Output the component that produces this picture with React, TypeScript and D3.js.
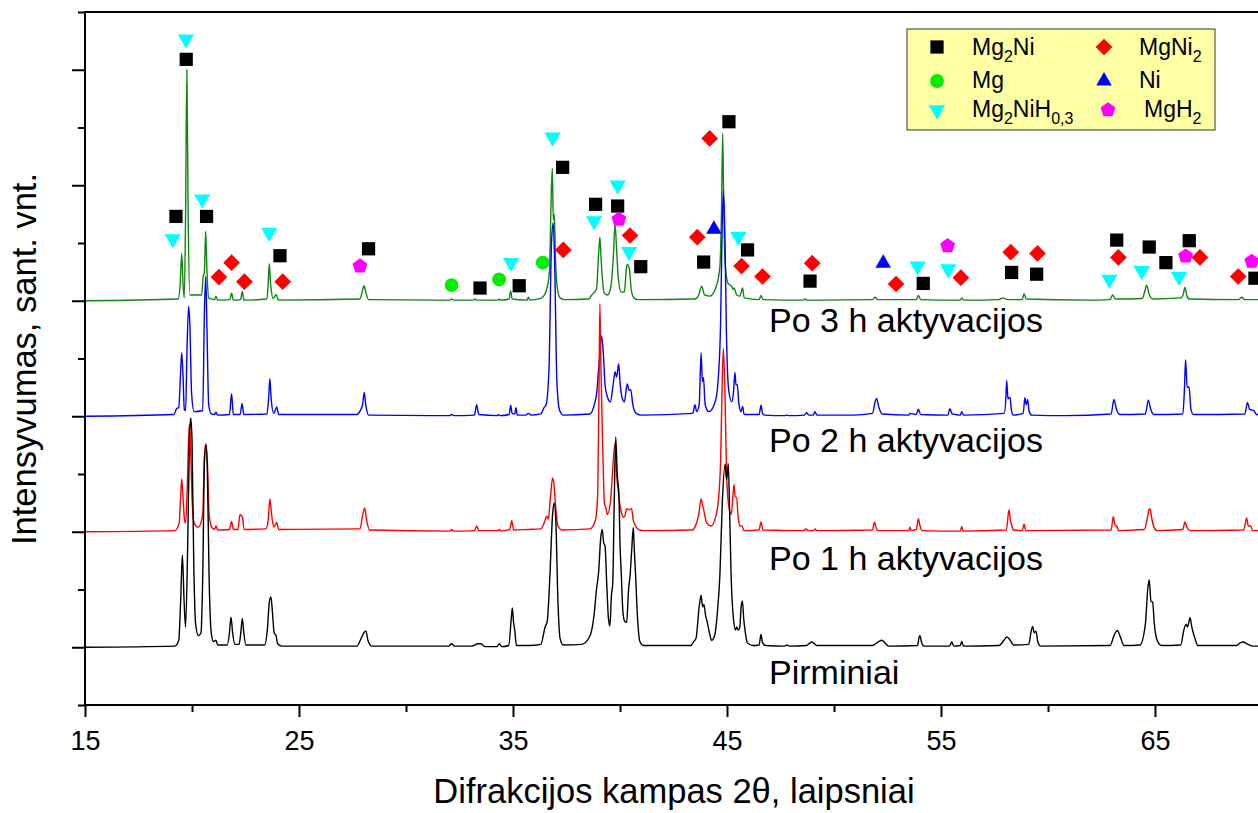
import React, { useEffect, useRef } from 'react';
import * as d3 from 'd3';

type Pt = [number, number];

// XRD patterns: [2theta (deg), intensity above the pattern's own baseline]
const pirminiai: Pt[] = [
  [15, 0], [19.2, 0.02], [19.38, 0.12], [19.47, 0.8], [19.55, 1.6], [19.63, 0.8], [19.7, 0.35],
  [19.8, 1.8], [19.88, 3.6], [19.94, 3.97], [20.0, 3.6], [20.08, 1.5], [20.17, 0.4], [20.3, 0.2],
  [20.42, 0.25], [20.5, 1.2], [20.58, 3.2], [20.65, 3.5], [20.72, 3.0], [20.8, 1.2], [20.9, 0.25],
  [21.0, 0.1], [21.12, 0.12], [21.2, 0.04], [21.65, 0.04], [21.75, 0.25], [21.82, 0.52], [21.9, 0.25],
  [22.0, 0.05], [22.2, 0.05], [22.28, 0.25], [22.35, 0.5], [22.42, 0.25], [22.52, 0.04], [23.4, 0.04],
  [23.52, 0.3], [23.62, 0.8], [23.69, 0.87], [23.76, 0.6], [23.84, 0.25], [23.93, 0.2], [24.0, 0.06],
  [24.2, 0.02], [27.7, 0.02], [27.9, 0.15], [28.05, 0.26], [28.13, 0.28], [28.22, 0.12], [28.4, 0.02],
  [32.0, 0.02], [32.13, 0.06], [32.26, 0.02], [33.1, 0.02], [33.35, 0.06], [33.5, 0.06], [33.7, 0.01],
  [34.25, 0.01], [34.36, 0.06], [34.47, 0.01], [34.8, 0.03], [34.92, 0.5], [34.97, 0.68], [35.02, 0.45],
  [35.08, 0.3], [35.16, 0.03], [35.75, 0.03], [36.3, 0.05], [36.5, 0.35], [36.6, 0.45], [36.72, 1.2],
  [36.85, 2.3], [36.92, 2.5], [37.0, 2.2], [37.1, 0.8], [37.2, 0.15], [37.35, 0.04], [38.2, 0.05],
  [38.6, 0.2], [38.8, 0.6], [38.9, 1.0], [39.0, 1.3], [39.1, 1.9], [39.17, 2.04], [39.24, 1.8],
  [39.3, 1.76], [39.38, 1.1], [39.46, 0.5], [39.53, 0.37], [39.6, 0.9], [39.66, 1.1], [39.73, 2.5],
  [39.8, 3.64], [39.87, 3.0], [39.95, 2.65], [40.0, 1.8], [40.06, 1.27], [40.14, 0.6], [40.22, 0.45],
  [40.31, 0.43], [40.4, 1.0], [40.47, 1.24], [40.55, 1.7], [40.62, 2.07], [40.68, 1.6], [40.73, 1.24],
  [40.82, 0.5], [40.93, 0.1], [41.1, 0.03], [43.3, 0.03], [43.45, 0.1], [43.55, 0.15], [43.7, 0.7],
  [43.79, 0.9], [43.86, 0.7], [43.92, 0.74], [44.0, 0.55], [44.08, 0.43], [44.18, 0.25], [44.28, 0.12],
  [44.42, 0.2], [44.55, 0.6], [44.67, 1.27], [44.78, 2.5], [44.91, 3.17], [44.98, 2.9], [45.06, 3.18],
  [45.12, 2.4], [45.19, 1.27], [45.3, 0.5], [45.4, 0.3], [45.45, 0.35], [45.53, 0.3], [45.6, 0.35],
  [45.66, 0.7], [45.72, 0.8], [45.78, 0.5], [45.84, 0.3], [45.95, 0.08], [46.2, 0.03], [46.5, 0.04],
  [46.59, 0.22], [46.66, 0.08], [46.8, 0.03], [47.7, 0.02], [47.8, 0.04], [47.9, 0.02], [48.7, 0.03],
  [48.96, 0.09], [49.2, 0.03], [51.8, 0.03], [52.1, 0.1], [52.23, 0.12], [52.4, 0.07], [52.55, 0.02],
  [53.9, 0.03], [53.98, 0.18], [54.02, 0.2], [54.08, 0.1], [54.2, 0.02], [55.4, 0.02], [55.5, 0.09],
  [55.6, 0.02], [55.9, 0.03], [55.97, 0.1], [56.05, 0.02], [57.7, 0.03], [58.0, 0.15], [58.07, 0.18],
  [58.2, 0.14], [58.4, 0.04], [59.1, 0.05], [59.2, 0.25], [59.28, 0.36], [59.36, 0.25], [59.44, 0.28],
  [59.52, 0.1], [59.65, 0.02], [62.9, 0.03], [63.1, 0.22], [63.24, 0.29], [63.38, 0.18], [63.55, 0.03],
  [64.3, 0.04], [64.55, 0.4], [64.66, 1.0], [64.73, 1.17], [64.81, 0.8], [64.89, 0.78], [64.97, 0.4],
  [65.1, 0.12], [65.3, 0.03], [66.2, 0.04], [66.35, 0.3], [66.45, 0.4], [66.52, 0.35], [66.64, 0.51],
  [66.72, 0.35], [66.87, 0.15], [67.0, 0.03], [68.8, 0.03], [69.0, 0.08], [69.13, 0.09], [69.3, 0.06],
  [69.6, 0.02], [70, 0.02],
];

const po1h: Pt[] = [
  [15, 0], [19.2, 0.02], [19.4, 0.15], [19.47, 0.6], [19.52, 0.92], [19.58, 0.6], [19.65, 0.2],
  [19.7, 0.15], [19.78, 0.8], [19.85, 1.7], [19.88, 1.85], [19.93, 1.5], [20.0, 0.6], [20.1, 0.15],
  [20.3, 0.08], [20.5, 0.3], [20.58, 1.3], [20.65, 1.53], [20.72, 1.2], [20.8, 0.3], [20.92, 0.08],
  [21.05, 0.04], [21.12, 0.1], [21.2, 0.03], [21.75, 0.04], [21.85, 0.18], [21.93, 0.04], [22.15, 0.04],
  [22.24, 0.3], [22.3, 0.28], [22.36, 0.25], [22.43, 0.04], [23.45, 0.05], [23.56, 0.2], [23.64, 0.57],
  [23.72, 0.3], [23.82, 0.08], [23.96, 0.16], [24.05, 0.04], [27.85, 0.05], [27.98, 0.3], [28.07, 0.41],
  [28.16, 0.2], [28.3, 0.03], [32.05, 0.01], [32.13, 0.04], [32.22, 0.01], [33.2, 0.02], [33.3, 0.1],
  [33.4, 0.02], [34.3, 0.02], [34.36, 0.04], [34.45, 0.01], [34.85, 0.04], [34.94, 0.19], [35.03, 0.03],
  [35.72, 0.04], [36.3, 0.05], [36.5, 0.2], [36.57, 0.27], [36.65, 0.22], [36.75, 0.6], [36.85, 0.93],
  [36.92, 0.8], [37.0, 0.4], [37.1, 0.1], [37.3, 0.03], [38.6, 0.05], [38.85, 0.2], [38.95, 0.6],
  [39.02, 2.5], [39.06, 3.95], [39.1, 3.0], [39.19, 1.5], [39.27, 0.5], [39.35, 0.4], [39.4, 0.3],
  [39.55, 0.5], [39.68, 1.2], [39.77, 1.54], [39.84, 1.0], [39.92, 0.7], [40.05, 0.35], [40.18, 0.25],
  [40.25, 0.3], [40.31, 0.4], [40.42, 0.38], [40.54, 0.4], [40.62, 0.2], [40.7, 0.12], [40.85, 0.04],
  [41.1, 0.02], [43.4, 0.03], [43.5, 0.08], [43.68, 0.3], [43.79, 0.57], [43.86, 0.45], [43.9, 0.4],
  [44.05, 0.15], [44.25, 0.1], [44.5, 0.3], [44.65, 0.8], [44.7, 1.2], [44.77, 2.5], [44.83, 3.17],
  [44.9, 2.5], [44.98, 1.0], [45.1, 0.4], [45.2, 0.3], [45.33, 0.82], [45.38, 0.6], [45.45, 0.6],
  [45.52, 0.25], [45.62, 0.1], [45.69, 0.1], [45.8, 0.02], [46.5, 0.03], [46.59, 0.17], [46.68, 0.03],
  [48.6, 0.02], [48.69, 0.05], [48.8, 0.02], [49.05, 0.02], [49.11, 0.05], [49.2, 0.02], [51.8, 0.03],
  [51.89, 0.17], [51.96, 0.08], [52.05, 0.02], [53.5, 0.02], [53.55, 0.08], [53.62, 0.02], [53.85, 0.04],
  [53.94, 0.22], [54.02, 0.1], [54.1, 0.02], [55.9, 0.01], [55.97, 0.09], [56.04, 0.01], [58.05, 0.03],
  [58.18, 0.38], [58.24, 0.2], [58.3, 0.12], [58.38, 0.03], [58.8, 0.02], [58.88, 0.13], [58.96, 0.02],
  [62.95, 0.03], [63.05, 0.26], [63.13, 0.12], [63.21, 0.1], [63.3, 0.02], [64.5, 0.04], [64.65, 0.25],
  [64.72, 0.38], [64.77, 0.4], [64.84, 0.25], [64.95, 0.08], [65.1, 0.02], [66.3, 0.04], [66.4, 0.17],
  [66.5, 0.07], [66.65, 0.02], [69.15, 0.03], [69.28, 0.24], [69.36, 0.1], [69.47, 0.1], [69.55, 0.02],
  [70, 0.02],
];

const po2h: Pt[] = [
  [15, 0], [19.15, 0.03], [19.28, 0.13], [19.38, 0.15], [19.46, 0.7], [19.52, 1.1], [19.58, 0.7],
  [19.64, 0.12], [19.7, 0.1], [19.77, 1.2], [19.84, 1.9], [19.9, 1.6], [19.98, 0.4], [20.1, 0.08],
  [20.5, 0.1], [20.58, 1.8], [20.64, 2.42], [20.7, 1.5], [20.78, 0.2], [20.9, 0.04], [21.05, 0.03],
  [21.12, 0.07], [21.2, 0.02], [21.75, 0.03], [21.85, 0.39], [21.93, 0.03], [22.25, 0.03], [22.34, 0.22],
  [22.42, 0.03], [23.5, 0.04], [23.58, 0.3], [23.64, 0.65], [23.7, 0.3], [23.82, 0.05], [23.96, 0.16],
  [24.05, 0.03], [27.7, 0.03], [27.85, 0.09], [27.97, 0.2], [28.05, 0.41], [28.12, 0.2], [28.25, 0.02],
  [32.05, 0.01], [32.13, 0.03], [32.22, 0.01], [33.2, 0.02], [33.3, 0.2], [33.4, 0.03], [34.28, 0.01],
  [34.31, 0.03], [34.4, 0.01], [34.82, 0.03], [34.89, 0.19], [34.96, 0.05], [35.08, 0.04], [35.14, 0.15],
  [35.2, 0.02], [35.6, 0.02], [35.72, 0.05], [35.84, 0.02], [36.3, 0.04], [36.45, 0.15], [36.54, 0.19],
  [36.68, 0.8], [36.8, 3.0], [36.88, 3.35], [36.95, 2.6], [37.05, 0.6], [37.18, 0.1], [37.35, 0.02],
  [38.6, 0.04], [38.8, 0.2], [38.91, 0.4], [39.02, 0.9], [39.14, 1.39], [39.22, 1.1], [39.3, 0.55],
  [39.4, 0.35], [39.55, 0.25], [39.68, 0.55], [39.77, 0.77], [39.84, 0.68], [39.94, 0.91], [40.0, 0.6],
  [40.08, 0.35], [40.2, 0.25], [40.34, 0.56], [40.42, 0.45], [40.5, 0.46], [40.6, 0.2], [40.75, 0.05],
  [41.0, 0.02], [43.4, 0.05], [43.5, 0.2], [43.58, 0.08], [43.7, 0.2], [43.79, 1.1], [43.85, 0.6],
  [43.9, 0.67], [43.98, 0.2], [44.15, 0.08], [44.45, 0.25], [44.6, 0.7], [44.7, 1.6], [44.77, 3.2],
  [44.83, 3.9], [44.9, 3.2], [44.97, 1.5], [45.08, 0.45], [45.22, 0.25], [45.3, 0.4], [45.37, 0.76],
  [45.42, 0.55], [45.48, 0.54], [45.56, 0.2], [45.65, 0.08], [45.73, 0.17], [45.8, 0.03], [46.5, 0.03],
  [46.59, 0.19], [46.66, 0.05], [46.75, 0.02], [47.7, 0.01], [47.79, 0.02], [47.9, 0.01], [48.62, 0.02],
  [48.72, 0.06], [48.82, 0.02], [49.03, 0.02], [49.11, 0.08], [49.2, 0.02], [50.9, 0.02], [51.8, 0.05],
  [51.92, 0.25], [51.99, 0.31], [52.1, 0.15], [52.25, 0.04], [53.5, 0.02], [53.55, 0.05], [53.85, 0.03],
  [53.94, 0.12], [54.05, 0.03], [55.32, 0.02], [55.42, 0.13], [55.52, 0.04], [55.9, 0.02], [55.97, 0.08],
  [56.05, 0.02], [57.95, 0.05], [58.03, 0.3], [58.07, 0.62], [58.13, 0.3], [58.22, 0.33], [58.3, 0.08],
  [58.38, 0.02], [58.84, 0.05], [58.92, 0.32], [58.98, 0.2], [59.05, 0.29], [59.12, 0.08], [59.25, 0.02],
  [60.79, 0.01], [62.95, 0.04], [63.08, 0.29], [63.2, 0.12], [63.35, 0.03], [64.55, 0.04], [64.69, 0.28],
  [64.8, 0.12], [64.95, 0.03], [66.3, 0.04], [66.38, 0.5], [66.43, 0.98], [66.5, 0.5], [66.59, 0.51],
  [66.68, 0.12], [66.8, 0.03], [69.2, 0.04], [69.32, 0.24], [69.42, 0.12], [69.6, 0.1], [69.75, 0.03],
  [70, 0.02],
];

const po3h: Pt[] = [
  [15, 0], [19.35, 0.03], [19.45, 0.3], [19.52, 0.82], [19.58, 0.3], [19.64, 0.05], [19.7, 1.5],
  [19.76, 4.0], [19.82, 1.5], [19.9, 0.1], [20.45, 0.1], [20.52, 0.4], [20.58, 0.5], [20.64, 1.2],
  [20.7, 0.5], [20.78, 0.05], [21.05, 0.02], [21.12, 0.08], [21.2, 0.01], [21.77, 0.02], [21.85, 0.13],
  [21.93, 0.01], [22.27, 0.02], [22.35, 0.16], [22.43, 0.01], [23.5, 0.03], [23.56, 0.3], [23.61, 0.64],
  [23.67, 0.3], [23.8, 0.04], [23.93, 0.11], [24.03, 0.01], [27.85, 0.03], [27.98, 0.2], [28.04, 0.26],
  [28.12, 0.15], [28.25, 0.02], [32.05, 0.01], [32.13, 0.03], [32.22, 0.01], [33.15, 0.01], [33.22, 0.03],
  [33.3, 0.01], [34.3, 0.01], [34.36, 0.03], [34.42, 0.01], [34.82, 0.03], [34.89, 0.17], [34.96, 0.03],
  [35.65, 0.01], [35.72, 0.06], [35.8, 0.01], [36.3, 0.04], [36.5, 0.12], [36.57, 0.19], [36.7, 0.5],
  [36.8, 2.0], [36.84, 2.29], [36.88, 1.4], [36.93, 1.5], [36.98, 0.8], [37.08, 0.2], [37.2, 0.05],
  [37.4, 0.02], [38.55, 0.03], [38.68, 0.1], [38.9, 0.2], [39.0, 0.8], [39.06, 1.1], [39.12, 0.7],
  [39.25, 0.15], [39.4, 0.1], [39.55, 0.2], [39.68, 0.7], [39.77, 1.33], [39.84, 0.9], [39.92, 0.4],
  [40.05, 0.15], [40.2, 0.15], [40.3, 0.55], [40.34, 0.63], [40.44, 0.55], [40.52, 0.2], [40.65, 0.05],
  [40.85, 0.02], [43.5, 0.03], [43.68, 0.1], [43.82, 0.25], [43.95, 0.1], [44.2, 0.08], [44.5, 0.25],
  [44.67, 0.6], [44.74, 1.5], [44.8, 2.9], [44.85, 1.6], [44.92, 0.6], [45.05, 0.3], [45.22, 0.25],
  [45.28, 0.2], [45.33, 0.22], [45.45, 0.1], [45.6, 0.08], [45.73, 0.22], [45.8, 0.05], [46.5, 0.02],
  [46.59, 0.09], [46.68, 0.02], [48.55, 0.01], [48.64, 0.03], [48.75, 0.01], [51.8, 0.02], [51.92, 0.06],
  [52.05, 0.02], [53.85, 0.02], [53.94, 0.09], [54.05, 0.02], [55.9, 0.01], [55.97, 0.05], [56.05, 0.01],
  [57.7, 0.02], [57.91, 0.05], [58.1, 0.02], [58.8, 0.02], [58.88, 0.12], [58.98, 0.03], [61.81, 0.01],
  [62.9, 0.02], [63.02, 0.1], [63.15, 0.03], [64.4, 0.04], [64.55, 0.2], [64.61, 0.27], [64.72, 0.12],
  [64.9, 0.03], [66.2, 0.05], [66.31, 0.1], [66.4, 0.23], [66.48, 0.1], [66.6, 0.03], [68.9, 0.02],
  [69.05, 0.06], [69.2, 0.02], [70, 0.02],
];

// stacking: each pattern sits on its own baseline
const seriesData = [po3h, po2h, po1h, pirminiai];
const seriesOffsets = [6, 4, 2, 0];
const seriesNames = ['Po 3 h aktyvacijos', 'Po 2 h aktyvacijos', 'Po 1 h aktyvacijos', 'Pirminiai'];
const seriesColors = ['#0d870d', '#0000ff', '#ff0000', '#000000'];

// phase markers: [2theta, level on the intensity axis]
const mg2NiMarks: Pt[] = [
  [19.73, 10.18], [19.25, 7.46], [20.68, 7.46], [24.11, 6.78], [28.25, 6.9], [33.46, 6.22],
  [35.29, 6.26], [37.32, 8.31], [38.86, 7.67], [39.89, 7.64], [40.97, 6.59], [43.91, 6.67],
  [45.09, 9.1], [45.96, 6.88], [48.88, 6.34], [54.17, 6.3], [58.3, 6.49], [59.47, 6.46],
  [63.21, 7.05], [64.73, 6.93], [65.51, 6.66], [66.6, 7.04], [69.67, 6.39],
];
const mgNi2Marks: Pt[] = [
  [21.26, 6.41], [21.85, 6.66], [22.45, 6.33], [24.24, 6.33], [37.35, 6.88], [40.47, 7.13],
  [43.61, 7.1], [44.19, 8.81], [45.68, 6.6], [46.66, 6.42], [48.98, 6.65], [52.9, 6.29],
  [55.93, 6.4], [58.26, 6.84], [59.51, 6.82], [63.29, 6.75], [67.1, 6.75], [68.89, 6.42],
];
const mgMarks: Pt[] = [[32.13, 6.27], [34.35, 6.37], [36.39, 6.66]];
const niMarks: Pt[] = [[44.39, 7.24], [52.3, 6.65]];
const mg2NiHMarks: Pt[] = [
  [19.72, 10.53], [19.1, 7.07], [20.48, 7.76], [23.61, 7.18], [34.91, 6.66], [36.85, 8.83],
  [38.79, 7.38], [39.89, 8.0], [40.42, 6.85], [45.53, 7.11], [53.91, 6.6], [55.34, 6.55],
  [62.87, 6.37], [64.38, 6.52], [66.12, 6.42],
];
const mgH2Marks: Pt[] = [[27.85, 6.6], [39.95, 7.41], [55.31, 6.95], [66.43, 6.77], [69.52, 6.68]];

const xMajorTicks = [15, 25, 35, 45, 55, 65];
const xMinorTicks = [20, 30, 40, 50, 60, 70];
const yMajorTicks = [0, 2, 4, 6, 8, 10];
const yMinorTicks = [-1, 1, 3, 5, 7, 9, 11];

const FONT = '"Liberation Sans", Arial, Helvetica, sans-serif';

// regular pentagon for the MgH2 marker
const symbolPentagon = {
  draw(context: any, size: number) {
    const r = Math.sqrt(size / (2.5 * Math.sin((72 * Math.PI) / 180)));
    for (let i = 0; i < 5; i++) {
      const a = -Math.PI / 2 + (i * 2 * Math.PI) / 5;
      const px = r * Math.cos(a);
      const py = r * Math.sin(a);
      if (i === 0) context.moveTo(px, py);
      else context.lineTo(px, py);
    }
    context.closePath();
  },
};

const phases = [
  { data: mg2NiMarks, type: d3.symbolSquare, size: 175, rotate: 0, color: '#000000', label: [['Mg', ''], ['2', 'sub'], ['Ni', '']], col: 0, row: 0 },
  { data: mgNi2Marks, type: d3.symbolSquare, size: 140, rotate: 45, color: '#ff0000', label: [['MgNi', ''], ['2', 'sub']], col: 1, row: 0 },
  { data: mgMarks, type: d3.symbolCircle, size: 150, rotate: 0, color: '#00ee00', label: [['Mg', '']], col: 0, row: 1 },
  { data: niMarks, type: d3.symbolTriangle, size: 105, rotate: 0, color: '#0000ff', label: [['Ni', '']], col: 1, row: 1 },
  { data: mg2NiHMarks, type: d3.symbolTriangle, size: 115, rotate: 180, color: '#00ffff', label: [['Mg', ''], ['2', 'sub'], ['NiH', ''], ['0,3', 'sub']], col: 0, row: 2 },
  { data: mgH2Marks, type: symbolPentagon, size: 145, rotate: 0, color: '#ff00ff', label: [['MgH', ''], ['2', 'sub']], col: 1, row: 2 },
];

const App = () => {
  const svgRef = useRef<SVGSVGElement>(null);

  useEffect(() => {
    const svg = d3.select(svgRef.current);
    svg.selectAll('*').remove();

    const left = 85, right = 1262, top = 12, bottom = 705;

    const x = d3.scaleLinear().domain([15, 70]).range([left, right]);
    const y = d3.scaleLinear().domain([-1, 11]).range([bottom, top]);

    svg.append('rect').attr('width', 1258).attr('height', 813).attr('fill', '#ffffff');

    // patterns, back to front
    seriesData.forEach((data, i) => {
      const line = d3.line<Pt>()
        .x(d => x(d[0]))
        .y(d => y(d[1] + seriesOffsets[i]))
        .curve(d3.curveMonotoneX);
      svg.append('path')
        .datum(data)
        .attr('d', line)
        .attr('fill', 'none')
        .attr('stroke', seriesColors[i])
        .attr('stroke-width', 1.4)
        .attr('stroke-linejoin', 'round');
    });

    // pattern labels
    const labelBaselines = [332, 452, 570, 684];
    seriesNames.forEach((name, i) => {
      svg.append('text')
        .attr('x', 769)
        .attr('y', labelBaselines[i])
        .attr('font-family', FONT)
        .attr('font-size', 34)
        .attr('fill', '#000')
        .text(name);
    });

    // phase markers
    phases.forEach(p => {
      const sym = d3.symbol().type(p.type as any).size(p.size);
      svg.append('g').selectAll('path')
        .data(p.data)
        .enter().append('path')
        .attr('d', sym() as string)
        .attr('transform', d => `translate(${x(d[0])},${y(d[1])}) rotate(${p.rotate})`)
        .attr('fill', p.color);
    });

    // axes
    const axisG = svg.append('g');
    const xMajor = axisG.append('g')
      .attr('transform', `translate(0,${bottom})`)
      .call(d3.axisBottom(x).tickValues(xMajorTicks).tickSize(12).tickPadding(14).tickFormat(d3.format('d')));
    axisG.append('g')
      .attr('transform', `translate(0,${bottom})`)
      .call(d3.axisBottom(x).tickValues(xMinorTicks).tickSize(7).tickFormat(() => ''));
    axisG.append('g')
      .attr('transform', `translate(${left},0)`)
      .call(d3.axisLeft(y).tickValues(yMajorTicks).tickSize(13).tickFormat(() => ''));
    axisG.append('g')
      .attr('transform', `translate(${left},0)`)
      .call(d3.axisLeft(y).tickValues(yMinorTicks).tickSize(7).tickFormat(() => ''));
    axisG.selectAll('.domain').remove();
    axisG.selectAll('.tick line').attr('stroke', '#000').attr('stroke-width', 2);
    xMajor.selectAll('text')
      .attr('font-family', FONT)
      .attr('font-size', 27)
      .attr('fill', '#000');

    // frame
    svg.append('rect')
      .attr('x', left)
      .attr('y', top)
      .attr('width', right - left)
      .attr('height', bottom - top)
      .attr('fill', 'none')
      .attr('stroke', '#000')
      .attr('stroke-width', 2);

    // axis titles
    svg.append('text')
      .attr('x', 674)
      .attr('y', 803)
      .attr('text-anchor', 'middle')
      .attr('font-family', FONT)
      .attr('font-size', 34.5)
      .attr('fill', '#000')
      .text('Difrakcijos kampas 2θ, laipsniai');

    svg.append('text')
      .attr('transform', 'translate(36,359) rotate(-90)')
      .attr('text-anchor', 'middle')
      .attr('font-family', FONT)
      .attr('font-size', 34.5)
      .attr('fill', '#000')
      .text('Intensyvumas, sant. vnt.');

    // legend
    const legend = svg.append('g');
    legend.append('rect')
      .attr('x', 907)
      .attr('y', 29)
      .attr('width', 308)
      .attr('height', 101)
      .attr('fill', '#ffffa4')
      .attr('stroke', '#333')
      .attr('stroke-width', 1);

    const rowMarkY = [47, 81, 110];
    const rowTextY = [55, 88, 117];
    const colMarkX = [937, 1104];
    const colTextX = [972, 1139];

    phases.forEach(p => {
      const sym = d3.symbol().type(p.type as any).size(p.size);
      const mx = colMarkX[p.col] + (p.type === symbolPentagon ? 4 : 0);
      legend.append('path')
        .attr('d', sym() as string)
        .attr('transform', `translate(${mx},${rowMarkY[p.row]}) rotate(${p.rotate})`)
        .attr('fill', p.color);
      const t = legend.append('text')
        .attr('x', colTextX[p.col] + (p.type === symbolPentagon ? 5 : 0))
        .attr('y', rowTextY[p.row])
        .attr('font-family', FONT)
        .attr('font-size', 23)
        .attr('fill', '#000');
      let shifted = false;
      p.label.forEach(([s, kind]) => {
        const ts = t.append('tspan').text(s);
        if (kind === 'sub') {
          ts.attr('font-size', 16).attr('dy', shifted ? 0 : 7);
          shifted = true;
        } else {
          ts.attr('dy', shifted ? -7 : 0);
          shifted = false;
        }
      });
    });
  }, []);

  return (
    <svg
      ref={svgRef}
      width={1258}
      height={813}
      style={{ position: 'absolute', left: 0, top: 0, display: 'block' }}
    />
  );
};

export default App;
